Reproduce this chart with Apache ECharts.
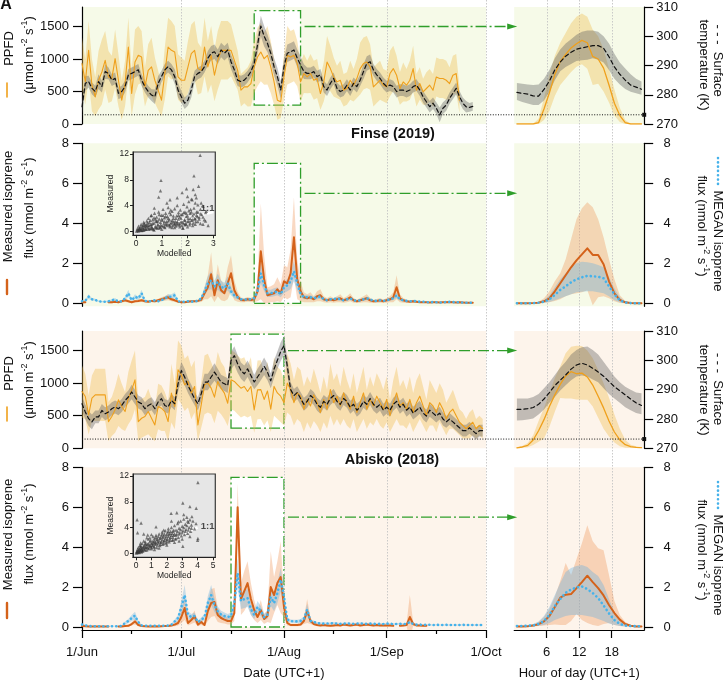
<!DOCTYPE html>
<html><head><meta charset="utf-8">
<script src="https://cdn.jsdelivr.net/npm/echarts@6/dist/echarts.min.js"></script>
<style>html,body{margin:0;padding:0;background:#fff}#c{width:726px;height:681px}</style>
</head><body><div id="c"></div>
<script>
// ---------------- DATA ----------------
const DAY_TICKS = [0,30,61,92,122];
const DAY_LABELS = ['1/Jun','1/Jul','1/Aug','1/Sep','1/Oct'];
const DAY_MINOR = [15,45,76,107];
const HOUR_TICKS = [6,12,18];
const HOURS = [0.5,1.5,2.5,3.5,4.5,5.5,6.5,7.5,8.5,9.5,10.5,11.5,12.5,13.5,14.5,15.5,16.5,17.5,18.5,19.5,20.5,21.5,22.5,23.5];

// Finse (2019) daily, index = days since 1 Jun
const finsePPFD = [929,650,1133,597,418,673,800,980,724,699, 1005,673,367,622,1184,469,954,1056,1030,571, 826,878,673,520,367,776,1184,1133,1107,724, 673,673,878,1082,1133,852,826,1184,878,1056, 750,980,1133,1133,1133,1133,980,826,520,571, 571,622,878,1030,1107,1005,1056,878,648,367, 342,724,1056,1030,1056,929,648,776,724,776, 673,699,469,648,954,852,724,648,673,520, 546,673,597,699,852,929,954,878,571,622, 673,597,571,776,852,750,546,648,597,673, 852,520,622,495,546,597,520,724,699,699, 673,622,750,776,367];
const finsePPFDsd = [400,350,450,400,300,450,500,450,400,350, 450,400,300,350,450,350,500,450,400,300, 400,450,350,300,250,400,450,450,400,350, 350,300,400,450,450,400,350,450,400,450, 400,450,450,450,450,400,350,300,250,250, 300,350,400,450,450,400,450,400,350,300, 250,350,450,400,400,350,300,300,250,300, 300,300,250,300,400,350,300,250,300,250, 250,300,250,300,400,400,400,350,300,300, 300,250,250,350,350,300,250,300,250,300, 350,250,250,200,250,250,250,300,300,300, 300,250,300,300,200];
const finseT = [275.9,283.9,284.5,282.2,281.1,284.5,282.8,287.9,287.3,285.0, 285.6,280.5,281.1,282.8,286.8,287.3,287.9,288.5,285.0,282.8, 281.1,279.9,279.3,283.9,286.2,288.5,289.6,288.5,286.2,281.6, 279.3,277.1,278.2,281.6,286.2,287.3,287.9,289.6,292.5,294.2, 294.7,293.0,295.3,294.2,295.3,291.3,288.5,285.0,284.5,285.0, 286.2,287.9,290.7,297.0,303.5,300.0,297.6,294.2,289.6,286.2, 281.6,289.6,294.2,294.7,295.3,292.5,290.2,287.9,287.3,287.3, 287.9,286.2,286.8,282.8,281.6,283.9,285.6,282.2,281.1,281.6, 283.3,281.6,283.9,282.8,285.0,287.9,290.7,291.3,288.5,286.8, 285.6,283.9,282.8,283.3,282.8,281.1,281.6,281.6,281.1,281.6, 282.8,283.3,281.6,279.3,277.6,275.9,277.1,275.4,273.1,275.4, 276.5,278.8,280.5,282.2,279.3,277.1,275.9,275.7,276.0];
const finseTsd = [2.5,2.5,2,2,2,2.5,2,2.5,2,2, 2,2,2,2,2,2,2,2,2,2, 2,2,2.5,2.5,2,2,2,2,2.5,2.5, 2,2,2,2.5,2,2,2,2,2.5,2.5, 2.5,2.5,2.5,2.5,2.5,2.5,2.5,2,2,2, 2,2,2.5,3,3.5,3.5,3,3,3,3, 3,3,3,3,3,3,3,2.5,2,2, 2,2,2,2,2,2,2,2,2,2, 2,2,2,2,2,2.5,2.5,2.5,2,2, 2,2,2,2,2,2,2,2,2,2, 2,2,2,2,2,2,2,2,2.5,2, 2,2,2,2,2,2,2,1.5,1.5];
const finseMeas = [0.05,0.05,null,null,null,null,null,null,0.05,0.05, 0.08,0.05,0.1,0.15,0.1,0.05,0.1,0.12,0.15,0.1, 0.08,0.12,0.1,0.15,0.2,0.25,0.3,0.2,0.15,0.08, 0.05,0.05,0.08,0.1,0.1,0.12,0.17,0.5,0.8,1.45, 0.4,1.15,0.65,0.5,1.0,1.5,0.65,0.33,0.17,0.15, 0.2,0.17,0.2,0.6,2.6,1.2,0.4,0.45,0.5,0.7, 0.5,1.1,1.0,1.5,3.3,1.2,0.6,0.3,0.25,0.3, 0.2,0.35,0.4,0.2,0.15,0.2,0.15,0.2,0.25,0.15, 0.2,0.3,0.15,0.1,0.15,0.2,0.25,0.15,0.1,0.12, 0.15,0.1,0.15,0.2,0.3,0.8,0.25,0.15,0.1,0.08, 0.1,0.08,0.05,0.05,0.05,0.04,0.05,0.05,0.04,0.05, 0.05,0.06,0.05,0.04,0.05,0.04,0.03,0.03,0.03];
const finseMeasSd = [0.05,0.05,null,null,null,null,null,null,0.05,0.05, 0.05,0.05,0.06,0.08,0.06,0.05,0.06,0.07,0.08,0.06, 0.05,0.06,0.06,0.08,0.1,0.12,0.15,0.1,0.08,0.05, 0.04,0.04,0.05,0.06,0.06,0.07,0.1,0.3,0.6,1.1, 0.35,0.8,0.5,0.4,0.8,0.9,0.5,0.25,0.12,0.1, 0.12,0.1,0.15,0.5,2.4,1.2,0.4,0.4,0.45,0.6, 0.45,0.8,0.8,1.2,2.0,1.0,0.5,0.25,0.2,0.25, 0.15,0.25,0.3,0.15,0.12,0.15,0.12,0.15,0.2,0.12, 0.15,0.2,0.12,0.08,0.12,0.15,0.2,0.12,0.08,0.1, 0.12,0.08,0.12,0.15,0.25,0.6,0.2,0.12,0.08,0.06, 0.08,0.06,0.04,0.04,0.04,0.03,0.04,0.04,0.03,0.04, 0.04,0.05,0.04,0.03,0.04,0.03,0.03,0.03,0.03];
const finseMeg = [0.1,0.13,0.33,0.2,0.17,0.1,0.08,0.08,0.1,0.15, 0.2,0.08,0.1,0.25,0.5,0.15,0.33,0.25,0.5,0.12, 0.1,0.1,0.15,0.1,0.15,0.25,0.33,0.33,0.4,0.1, 0.08,0.08,0.1,0.08,0.1,0.12,0.25,0.6,1.0,1.15, 0.83,1.08,0.83,0.75,1.0,0.6,0.4,0.3,0.2,0.18, 0.2,0.2,0.25,0.6,1.5,0.9,0.5,0.5,0.55,0.6, 0.45,0.8,0.9,1.1,1.6,1.0,0.5,0.3,0.3,0.3, 0.25,0.3,0.35,0.2,0.15,0.2,0.2,0.25,0.2,0.15, 0.2,0.25,0.15,0.12,0.15,0.2,0.25,0.2,0.12,0.12, 0.15,0.12,0.15,0.2,0.25,0.4,0.2,0.15,0.12,0.1, 0.12,0.1,0.08,0.08,0.06,0.05,0.06,0.05,0.04,0.05, 0.06,0.07,0.06,0.05,0.05,0.04,0.03,0.03,0.03];
const finseMegSd = [0.04,0.05,0.12,0.07,0.06,0.04,0.03,0.03,0.04,0.05, 0.07,0.03,0.04,0.08,0.18,0.05,0.12,0.08,0.18,0.04, 0.04,0.04,0.05,0.04,0.05,0.08,0.12,0.12,0.15,0.04, 0.03,0.03,0.04,0.03,0.04,0.04,0.08,0.2,0.35,0.45, 0.3,0.4,0.3,0.28,0.35,0.2,0.15,0.1,0.07,0.06, 0.07,0.07,0.08,0.2,0.5,0.3,0.18,0.18,0.2,0.2, 0.15,0.28,0.3,0.38,0.5,0.35,0.18,0.1,0.1,0.1, 0.08,0.1,0.12,0.07,0.05,0.07,0.07,0.08,0.07,0.05, 0.07,0.08,0.05,0.04,0.05,0.07,0.08,0.07,0.04,0.04, 0.05,0.04,0.05,0.07,0.08,0.14,0.07,0.05,0.04,0.03, 0.04,0.03,0.03,0.03,0.02,0.02,0.02,0.02,0.02,0.02, 0.02,0.02,0.02,0.02,0.02,0.02,0.01,0.01,0.01];

// Abisko (2018) daily
const abiskoPPFD = [872,795,513,769,820,820,820,820,410,487, 590,744,641,564,769,897,1051,410,461,487, 564,461,359,641,615,564,410,846,641,1205, 1128,974,1026,846,949,359,667,974,1000,923, 785,1026,923,846,692,1051,1026,974,923,949, 872,949,590,897,900,750,880,600,950,850, 800,700,1000,900,700,850,800,600,750,650, 820,700,550,750,600,900,700,800,650,850, 700,600,800,550,700,850,600,750,650,800, 700,600,750,500,700,850,650,700,600,750, 550,700,800,650,500,700,650,550,700,600, 450,550,600,500,400,350,300,350,400,300, 350,300];
const abiskoPPFDsd = [400,350,300,350,400,400,400,400,300,300, 350,400,350,300,400,450,450,300,300,300, 350,300,250,350,350,300,300,450,350,450, 450,400,400,400,400,250,350,450,450,400, 400,450,400,400,350,450,450,450,450,450, 400,450,350,450,450,400,450,350,450,400, 400,350,450,400,350,400,400,350,350,350, 400,350,300,350,300,400,350,350,300,400, 350,300,350,300,350,400,300,350,300,350, 350,300,350,250,350,400,300,350,300,350, 300,350,350,300,250,350,300,300,300,300, 250,250,300,250,200,200,150,200,200,150, 150,150];
const abiskoT = [285.2,282.4,280.1,279.0,280.7,280.7,282.9,281.8,282.4,283.5, 284.1,283.5,284.6,286.3,287.5,289.2,287.5,285.8,285.2,283.5, 284.6,285.2,283.5,285.8,286.9,284.6,284.1,286.3,285.2,292.0, 296.5,294.3,291.4,289.2,286.9,285.2,288.6,292.6,292.6,294.3, 296.0,294.3,292.6,292.0,291.4,299.9,301.6,298.8,296.5,295.4, 297.1,294.8,292.6,294.3,296,298,296,293,297,300, 303,305,298,290,288,289,287,285,286,288, 287,285,284,286,285,287,288,286,285,287, 286,284,285,283,284,286,285,287,285,284, 285,283,284,283,285,286,284,285,283,284, 282,283,284,282,281,283,282,281,282,280, 279,280,279,278,277,276,276,277,276,275, 276,276];
const abiskoTsd = [2.5,2.5,2.5,2.5,2.2,2.2,2.2,2.2,2.2,2.2, 2.2,2.2,2.2,2.2,2.2,2.5,2.5,2.2,2.2,2.2, 2.2,2.2,2.2,2.2,2.2,2.2,2.2,2.2,2.2,2.8, 3,2.8,2.5,2.5,2.2,2.2,2.5,2.8,2.8,2.8, 3,2.8,2.5,2.5,2.5,3,3.2,3,2.8,2.8, 2.8,2.8,2.5,2.8,2.8,3,2.8,2.5,3,3, 3.2,3.2,3,2.5,2.2,2.2,2.2,2.2,2.2,2.2, 2.2,2.2,2.2,2.2,2.2,2.2,2.2,2.2,2.2,2.2, 2.2,2.2,2.2,2.2,2.2,2.2,2.2,2.2,2.2,2.2, 2.2,2.2,2.2,2.2,2.2,2.2,2.2,2.2,2.2,2.2, 2.2,2.2,2.2,2.2,2.2,2.2,2.2,2.2,2.2,2.2, 2,2,2,2,2,2,2,2,2,2, 2,2];
const abiskoMeas = [0.05,0.04,0.03,0.03,0.03,0.03,0.03,0.03,0.03,null, null,0.03,0.03,0.05,0.06,0.15,0.28,0.1,0.05,0.04, 0.03,0.03,0.04,0.03,0.04,0.05,0.05,0.08,0.12,0.2, 0.5,0.95,0.2,0.35,0.53,0.12,0.25,0.1,0.8,1.2, 1.25,0.6,0.45,0.37,0.3,0.3,0.7,6.0,1.4,1.8, 2.2,1.4,0.85,0.5,0.85,0.4,0.55,2.0,1.6,2.2, 2.5,1.0,0.2,0.1,0.1,0.1,0.12,0.3,0.8,0.3, 0.15,0.1,0.08,0.1,0.08,0.06,0.08,0.1,0.08,0.12, 0.1,0.08,0.1,0.12,0.08,0.1,0.12,0.1,0.08,0.1, 0.08,0.07,0.08,0.08,0.06,null,0.06,0.07,0.1,0.5, 0.15,0.08,0.07,0.06,0.06];
const abiskoMeasSd = [0.03,0.02,0.02,0.02,0.02,0.02,0.02,0.02,0.02,null, null,0.02,0.02,0.03,0.04,0.08,0.15,0.05,0.03,0.02, 0.02,0.02,0.02,0.02,0.02,0.03,0.03,0.05,0.08,0.12, 0.3,0.6,0.12,0.2,0.3,0.08,0.15,0.06,0.5,0.7, 0.7,0.35,0.25,0.2,0.18,0.18,0.4,1.2,0.8,1.0, 1.1,0.8,0.5,0.3,0.5,0.25,0.3,1.8,0.9,1.1, 1.8,0.5,0.12,0.06,0.06,0.06,0.07,0.15,0.6,0.15, 0.08,0.06,0.05,0.06,0.05,0.04,0.05,0.06,0.05,0.07, 0.06,0.05,0.06,0.07,0.05,0.06,0.07,0.06,0.05,0.06, 0.05,0.04,0.05,0.05,0.04,null,0.04,0.04,0.06,1.1, 0.1,0.05,0.04,0.04,0.04];
const abiskoMeg = [0.12,0.08,0.05,0.04,0.04,0.04,0.04,0.03,0.04,0.04, 0.04,0.04,0.06,0.2,0.3,0.45,0.57,0.25,0.08,0.06, 0.06,0.06,0.06,0.06,0.06,0.06,0.07,0.12,0.28,0.45, 1.0,1.6,0.6,0.5,0.55,0.25,0.35,0.5,1.2,1.6, 1.1,0.78,0.62,0.55,0.5,0.55,1.2,2.7,1.3,1.4, 1.45,0.9,0.6,1.0,0.8,0.5,0.6,1.5,1.2,1.7, 2.37,1.5,0.37,0.3,0.28,0.28,0.3,0.4,0.87,0.3, 0.25,0.2,0.17,0.17,0.18,0.17,0.2,0.17,0.16,0.17, 0.18,0.17,0.16,0.17,0.18,0.17,0.16,0.17,0.16,0.15, 0.16,0.15,0.17,0.16,0.15,0.15,0.16,0.15,0.15,0.25, 0.15,0.12,0.12,0.11,0.12,0.11,0.1,0.11,0.1,0.1, 0.11,0.1,0.1,0.1,0.1,0.11,0.1,0.1,0.1,0.1, 0.1,0.1];
const abiskoMegSd = [0.05,0.03,0.02,0.02,0.02,0.02,0.02,0.02,0.02,0.02, 0.02,0.02,0.03,0.07,0.1,0.15,0.2,0.08,0.03,0.02, 0.02,0.02,0.02,0.02,0.02,0.02,0.03,0.05,0.1,0.15, 0.3,0.5,0.2,0.15,0.18,0.08,0.12,0.15,0.35,0.5, 0.35,0.25,0.2,0.18,0.15,0.18,0.35,0.8,0.4,0.45, 0.45,0.3,0.2,0.3,0.25,0.15,0.2,0.45,0.4,0.5, 0.6,0.4,0.12,0.08,0.08,0.08,0.1,0.12,0.3,0.08, 0.07,0.05,0.05,0.05,0.05,0.05,0.05,0.05,0.04,0.04, 0.04,0.04,0.04,0.04,0.04,0.04,0.04,0.04,0.04,0.04, 0.04,0.04,0.04,0.04,0.04,0.04,0.04,0.04,0.04,0.08, 0.04,0.03,0.03,0.03,0.03,0.03,0.03,0.03,0.03,0.03, 0.03,0.03,0.03,0.03,0.03,0.03,0.03,0.03,0.03,0.03, 0.03,0.03];

// Diurnal (hour of day)
const fDiPPFD   = [0,0,0,0,20,230,480,760,960,1070,1170,1235,1286,1250,1040,1000,860,600,320,130,20,0,0,0];
const fDiPPFDhi = [0,0,0,5,80,400,750,1050,1250,1400,1550,1650,1700,1650,1450,1350,1150,850,530,250,60,0,0,0];
const fDiPPFDlo = [0,0,0,0,0,60,200,430,600,700,800,880,920,850,600,620,500,330,130,30,0,0,0,0];
const fDiT   = [280.8,280.5,280.2,279.6,279.5,281.8,284.7,288.5,291.2,293.2,294.5,295.6,296.0,296.4,296.8,296.8,295.9,293.0,289.5,287.0,285.0,283.3,282.6,281.9];
const fDiThi = [284,283.8,283.5,283.3,283.5,285.5,288.5,292.5,295.5,297.5,299,300.5,301.5,302,302,301.5,300,297.5,294,291,289,287,285.5,284.5];
const fDiTlo = [278.2,277.5,277,276.5,276.5,278,281,285,288,289.5,290.5,291.5,291.8,292,292.5,292,291,288.5,285.5,283.5,282,281,280.5,280];
const fDiMeas   = [0,0,0,0.01,0.03,0.1,0.25,0.6,1.0,1.4,1.8,2.15,2.45,2.75,2.42,2.42,1.95,1.1,0.5,0.17,0.05,0.01,0,0];
const fDiMeasHi = [0,0,0,0.03,0.08,0.25,0.6,1.1,1.5,2.2,3.2,4.2,4.75,5.05,4.8,4.2,3.3,2.2,1.2,0.4,0.12,0.03,0,0];
const fDiMeasLo = [0,0,0,0,0,0.02,0.05,0.12,0.2,0.35,0.45,0.5,0.55,0.65,-0.1,0.3,0.35,0.25,0.1,0.02,0,0,0,0];
const fDiMeg   = [0,0,0,0.01,0.03,0.08,0.2,0.42,0.67,0.85,1.05,1.2,1.3,1.37,1.35,1.33,1.25,0.85,0.45,0.15,0.04,0.01,0,0];
const fDiMegHi = [0,0,0,0.02,0.06,0.15,0.4,0.8,1.2,1.5,1.8,2.0,2.08,2.05,2.0,1.92,1.8,1.3,0.75,0.3,0.08,0.02,0,0];
const fDiMegLo = [0,0,0,0,0.01,0.03,0.06,0.15,0.25,0.35,0.45,0.55,0.58,0.6,0.6,0.55,0.5,0.35,0.15,0.05,0.01,0,0,0];

const aDiPPFD   = [8,20,45,128,270,440,640,820,980,1110,1175,1144,1154,1095,970,800,620,420,250,128,55,25,15,10];
const aDiPPFDhi = [15,35,80,200,420,620,850,1080,1260,1460,1560,1575,1570,1500,1380,1200,1000,780,520,300,130,55,30,18];
const aDiPPFDlo = [3,8,15,50,100,150,330,560,770,765,765,750,745,745,640,470,300,180,90,30,10,5,3,2];
const aDiT   = [283.3,283.3,283.5,283.9,285.0,286.8,289.0,291.4,293.2,295.0,297.0,298.4,299.0,298.4,297.3,296.0,294.6,292.8,291.0,289.6,288.2,286.8,285.5,284.6];
const aDiThi = [287,287,287,287.5,288.5,290.5,292.5,295,297.5,299.5,302,303.5,304.5,304.7,303.5,302,299.5,297,294.5,292.5,291,290,289,288.8];
const aDiTlo = [279.5,279.6,279.8,280.2,281.5,283.2,285.5,287.5,289.7,291.5,293.2,294.5,294.8,294.5,293.5,292.5,290.5,288.5,287,285.5,284,283,282,281.6];
const aDiMeas   = [0.03,0.03,0.04,0.07,0.14,0.28,0.55,1.0,1.47,1.62,1.65,1.95,2.25,2.57,2.25,1.95,1.58,1.1,0.7,0.37,0.15,0.06,0.03,0.03];
const aDiMeasHi = [0.05,0.05,0.06,0.12,0.25,0.5,0.9,1.5,2.3,3.2,2.6,3.4,4.2,5.1,4.3,3.95,3.85,2.6,1.3,0.6,0.25,0.1,0.05,0.05];
const aDiMeasLo = [0.01,0.01,0.02,0.03,0.05,0.08,0.1,0.12,0.1,0.1,0.3,0.65,0.35,0.2,0.1,0.05,0.15,0.2,0.1,0.05,0.02,0.01,0.01,0.01];
const aDiMeg   = [0.05,0.05,0.06,0.08,0.15,0.3,0.6,1.05,1.4,1.72,1.88,1.98,2.03,1.9,1.7,1.45,1.08,0.68,0.35,0.15,0.07,0.05,0.04,0.04];
const aDiMegHi = [0.08,0.08,0.1,0.15,0.28,0.55,1.0,1.6,2.2,2.75,2.95,3.05,3.1,3.0,2.75,2.55,2.1,1.4,0.75,0.35,0.15,0.1,0.08,0.07];
const aDiMegLo = [0.02,0.02,0.03,0.04,0.06,0.1,0.2,0.35,0.45,0.55,0.6,0.6,0.6,0.55,0.5,0.4,0.3,0.18,0.1,0.05,0.03,0.02,0.02,0.02];

// Insets: measured vs modelled
const finseScatter = [[0.02,0.05],[0.05,0.1],[0.08,0.3],[0.1,0.15],[0.12,0.5],[0.15,0.2],[0.18,0.7],[0.2,0.35],[0.22,0.1],[0.25,0.9],[0.28,0.5],[0.3,0.2],[0.32,1.2],[0.35,0.7],[0.38,0.3],[0.4,1.0],[0.42,1.6],[0.45,0.5],[0.48,2.0],[0.5,0.9],[0.52,1.4],[0.55,0.4],[0.58,2.4],[0.6,1.1],[0.62,0.6],[0.65,1.8],[0.68,0.3],[0.7,1.3],[0.72,2.8],[0.75,0.8],[0.78,1.6],[0.8,2.2],[0.82,0.5],[0.85,1.1],[0.88,3.0],[0.9,1.9],[0.92,0.7],[0.95,1.4],[0.98,2.5],[1.0,0.9],[1.02,1.7],[1.05,3.4],[1.08,1.2],[1.1,2.1],[1.12,0.6],[1.15,2.8],[1.18,1.5],[1.2,0.9],[1.22,2.3],[1.25,3.7],[1.28,1.1],[1.3,1.8],[1.32,0.7],[1.35,2.6],[1.38,1.4],[1.4,3.1],[1.42,0.9],[1.45,2.0],[1.48,1.2],[1.5,3.5],[1.52,1.6],[1.55,0.8],[1.58,2.4],[1.6,4.0],[1.62,1.3],[1.65,2.9],[1.68,1.0],[1.7,2.2],[1.72,3.3],[1.75,1.5],[1.78,0.9],[1.8,2.6],[1.82,0.5],[1.85,4.2],[1.88,1.8],[1.9,3.0],[1.92,1.2],[1.95,2.3],[1.98,3.8],[2.0,1.5],[2.02,2.0],[2.05,4.6],[2.08,1.0],[2.1,2.8],[2.12,3.4],[2.15,1.7],[2.18,4.9],[2.2,2.4],[2.22,1.3],[2.25,3.6],[2.28,2.0],[2.3,4.4],[2.32,1.5],[2.35,3.0],[2.38,2.3],[2.4,4.1],[2.45,1.9],[2.5,3.4],[2.55,2.6],[2.6,3.9],[2.65,1.8],[2.7,2.9],[2.8,0.9],[0.6,2.5],[0.3,0.9],[0.7,0.2],[1.0,0.3],[1.5,0.6],[2.0,0.7],[2.3,1.1],[2.6,1.1],[2.49,11.8],[2.25,8.6],[0.97,7.9],[2.43,7.0],[0.95,6.3],[1.96,6.6],[2.22,6.5],[1.32,4.9],[0.88,5.3],[2.3,5.7],[1.79,6.0],[2.34,5.2],[2.53,4.4],[2.73,3.1],[0.71,3.6],[1.82,0.5],[2.15,5.0],[1.6,5.2],[1.2,4.4],[2.0,5.4],
  [0.05,0.4],[0.1,0.8],[0.15,0.45],[0.2,1.1],[0.25,0.6],[0.3,1.4],[0.35,0.4],[0.4,0.75],[0.45,1.3],[0.5,0.55],[0.55,1.7],[0.6,0.8],[0.65,1.2],[0.7,2.1],[0.75,0.6],[0.8,1.5],[0.85,0.9],[0.9,2.6],[0.95,1.0],[1.0,1.9],[1.05,0.8],[1.1,1.5],[1.15,2.3],[1.2,1.2],[1.25,1.6],[1.3,2.9],[1.35,1.2],[1.4,1.7],[1.45,2.4],[1.5,1.1],[1.55,2.0],[1.6,1.5],[1.65,2.5],[1.7,1.2],[1.75,2.0],[1.8,1.4],[1.85,2.9],[1.9,1.7],[1.95,1.1],[2.0,2.4],[2.05,1.6],[2.1,2.0],[2.15,3.0],[2.2,1.8],[2.25,2.7],[2.3,1.9],[2.35,2.5],[2.4,3.0],[2.45,2.2],[2.5,2.7],[0.1,0.05],[0.2,0.15],[0.3,0.25],[0.4,0.3],[0.5,0.3],[0.6,0.45],[0.8,0.6],[0.9,0.5],[1.1,0.7],[1.3,0.9],[1.4,0.6],[1.6,1.0],[1.7,0.7],[1.9,1.0],[2.1,1.3],[2.2,0.9],[2.4,1.5],[2.5,1.2],[2.6,2.2],[2.7,1.6],[0.15,0.3],[0.25,0.2],[0.35,1.0],[0.45,0.9],[0.55,1.0],[0.65,0.4],[0.75,1.9],[0.85,1.6],[0.95,0.6],[1.05,2.5],[1.15,1.1],[1.25,2.0],[1.35,3.3],[1.45,1.5],[1.55,1.3],[1.65,1.9],[1.75,2.6],[1.85,1.2],[1.95,2.8],[2.05,3.2]];
const abiskoScatter = [[0.02,0.05],[0.05,0.3],[0.08,0.1],[0.1,0.6],[0.12,0.2],[0.15,0.9],[0.18,0.4],[0.2,0.1],[0.22,0.7],[0.25,1.2],[0.28,0.3],[0.3,0.5],[0.32,1.0],[0.35,0.2],[0.38,0.8],[0.4,1.5],[0.45,0.4],[0.5,1.1],[0.55,0.6],[0.6,1.8],[0.65,0.9],[0.7,0.5],[0.75,1.4],[0.8,2.2],[0.85,0.8],[0.9,1.2],[0.95,2.0],[1.0,0.7],[1.05,1.6],[1.1,2.6],[1.15,1.0],[1.2,1.9],[1.25,1.4],[1.3,2.8],[1.35,0.9],[1.4,2.2],[1.45,1.6],[1.5,3.0],[1.55,1.2],[1.6,2.4],[1.65,1.8],[1.7,3.3],[1.75,1.4],[1.8,2.7],[1.85,2.0],[1.9,3.5],[1.95,1.6],[2.0,2.9],[2.05,2.2],[2.1,3.8],[2.15,1.8],[2.2,3.1],[2.25,2.5],[2.3,4.0],[2.35,2.0],[2.4,3.4],[2.45,2.8],[2.5,4.3],[2.55,2.2],[2.6,3.6],[2.65,3.0],[2.7,4.6],[2.75,2.5],[2.8,3.9],[2.85,3.2],[2.9,5.0],[2.95,2.7],[3.0,4.2],[3.05,3.5],[3.1,5.3],[3.15,2.9],[3.2,4.5],[3.25,3.7],[3.3,5.6],[3.35,3.1],[3.4,4.8],[3.45,4.0],[3.5,5.2],[3.55,3.4],[3.6,4.4],[3.7,5.0],[3.8,3.8],[3.9,4.6],[1.0,2.9],[0.5,1.9],[2.0,1.3],[1.5,0.8],[2.5,1.7],[3.0,2.2],[0.3,1.6],[0.7,2.4],[1.2,0.6],[2.8,1.9],[3.5,2.6],[4.02,11],[0.07,5.2],[0.33,4.7],[3.04,7.8],[3.5,7.25],[3.91,7.0],[2.28,6.2],[2.65,6.3],[3.63,5.7],[3.36,5.0],[3.1,6.0],[2.75,4.9],[4.02,2.3],[4.0,2.0],[3.04,1.1],[1.3,4.1],[0.76,2.85],[0.1,3.2],[0.5,3.0],[1.8,3.6],[2.3,5.0],
  [0.05,0.15],[0.1,0.3],[0.15,0.5],[0.2,0.3],[0.25,0.5],[0.3,0.8],[0.35,0.6],[0.4,0.5],[0.45,0.9],[0.5,0.7],[0.55,1.2],[0.6,0.9],[0.65,1.4],[0.7,1.0],[0.75,0.9],[0.8,1.5],[0.85,1.2],[0.9,1.8],[0.95,1.1],[1.0,1.5],[1.05,1.2],[1.1,1.9],[1.15,1.6],[1.2,2.3],[1.25,1.7],[1.3,1.5],[1.35,2.1],[1.4,1.8],[1.45,2.6],[1.5,1.9],[1.55,2.3],[1.6,1.7],[1.65,2.7],[1.7,2.1],[1.75,2.5],[1.8,1.9],[1.85,3.0],[1.9,2.3],[1.95,2.6],[2.0,2.1],[2.05,3.2],[2.1,2.6],[2.15,2.9],[2.2,2.3],[2.25,3.4],[2.3,2.8],[2.35,3.1],[2.4,2.5],[2.45,3.6],[2.5,3.0],[2.6,2.8],[2.7,3.4],[2.8,3.0],[2.9,3.7],[3.0,3.2],[3.1,4.0],[3.2,3.4],[3.3,4.3],[3.4,3.6],[3.6,3.9],[0.2,0.15],[0.4,0.3],[0.6,0.5],[0.8,0.7],[1.0,0.9],[1.2,1.0],[1.4,1.3],[1.6,1.4],[1.8,1.6],[2.0,1.8],[2.2,2.0],[2.4,2.1],[2.6,2.3],[0.3,1.2],[0.6,1.5],[0.9,2.4],[1.1,1.3],[1.3,2.5],[1.7,3.0],[2.1,3.4]];
const finseOneToOne = [[0,0],[3,3]];
const abiskoOneToOne = [[0,0],[4,4]];
const finseOneLabel = [[2.78,3.62]];
const abiskoOneLabel = [[4.65,4.16]];

// Zoom boxes [startDay, endDay], arrow levels
const finseBox = {d0:52, d1:66, p0:291, p1:1745, f1:7.0};
const abiskoBox = {d0:45, d1:61, p0:311, p1:1753, f1:7.5};
const ARROW_PPFD = 1500, ARROW_FLUX = 5.5, FREEZE_K = 273.15;

// ---------------- STYLE ----------------
const FONT = "'Liberation Sans', Arial, Helvetica, sans-serif";
const C_PPFD = '#efa01c', C_PPFD_BAND = 'rgba(240,188,80,0.38)';
const C_T = '#111', C_T_BAND = 'rgba(95,95,95,0.38)';
const C_MEAS = '#d4621a', C_MEAS_BAND = 'rgba(238,150,90,0.36)';
const C_MEG = '#46b2ea', C_MEG_BAND = 'rgba(100,175,225,0.36)';
const GREEN = '#2f9e2a';
const FINSE_BG = '#f6fae8', ABISKO_BG = '#fdf4eb';
const LX = 82, LW = 404, RX = 514.2, RW = 130;
const P = [{top:7,h:117},{top:143.3,h:163},{top:331,h:117.3},{top:467.3,h:163}];
const DAY = Array.from({length:123}, (_, i) => i);

function band(mean, sd, floor) {
  const lo = [], hi = [];
  for (let i = 0; i < mean.length; i++) {
    if (mean[i] == null || sd[i] == null) { lo.push(null); hi.push(null); }
    else { let l = mean[i] - sd[i]; if (floor != null) l = Math.max(floor, l); lo.push(l); hi.push(mean[i] + sd[i]); }
  }
  return [lo, hi];
}
function bandSeries(xi, yi, xs, lo, hi, color, z) {
  let i0 = 0; while (i0 < lo.length && (lo[i0] == null || hi[i0] == null)) i0++;
  return {
    type: 'custom', xAxisIndex: xi, yAxisIndex: yi, z: z || 2, silent: true, clip: true,
    data: [[xs[i0], (lo[i0] + hi[i0]) / 2]],
    renderItem: function (params, api) {
      const children = []; let run = [];
      const flush = () => {
        if (run.length > 1) {
          const top = run.map(i => api.coord([xs[i], hi[i]]));
          const bot = run.map(i => api.coord([xs[i], lo[i]])).reverse();
          children.push({type: 'polygon', shape: {points: top.concat(bot)}, style: {fill: color}});
        }
        run = [];
      };
      for (let i = 0; i < lo.length; i++) {
        if (lo[i] == null || hi[i] == null) flush(); else run.push(i);
      }
      flush();
      return {type: 'group', children};
    }
  };
}
function lineSeries(xi, yi, xs, ys, color, width, dash, z, extra) {
  return Object.assign({
    type: 'line', xAxisIndex: xi, yAxisIndex: yi, z: z || 3, silent: true,
    showSymbol: false, symbol: 'none', connectNulls: false, clip: true,
    data: ys.map((v, i) => [xs[i], v == null ? '-' : v]),
    lineStyle: {color, width, type: dash || 'solid', cap: 'round', join: 'round'}
  }, extra || {});
}
function boxMark(d0, v0, d1, v1) {
  return {silent: true, label: {show: false},
    itemStyle: {color: '#ffffff', borderColor: GREEN, borderWidth: 1.3, borderType: [11, 3, 2, 3]},
    data: [[{coord: [d0, v0]}, {coord: [d1, v1]}]]};
}
function xAx(grid, min, max, ticks, labels, show, name) {
  return {type: 'value', gridIndex: grid, min, max, position: 'bottom', show,
    axisLine: {show: true, onZero: false, lineStyle: {color: '#000', width: 1.2}},
    axisTick: {show: true, length: 8, customValues: ticks, lineStyle: {color: '#000', width: 1.2}},
    axisLabel: {show: true, customValues: ticks, fontSize: 13, color: '#111', fontFamily: FONT, margin: 16,
      formatter: labels ? (v => labels[ticks.indexOf(v)]) : (v => String(v))},
    splitLine: {show: false},
    name: name || '', nameLocation: 'middle', nameGap: 37,
    nameTextStyle: {fontSize: 13, color: '#111', fontFamily: FONT}};
}
function yAx(grid, min, max, ticks, pos, show) {
  return {type: 'value', gridIndex: grid, min, max, position: pos, show,
    axisLine: {show: true, onZero: false, lineStyle: {color: '#000', width: 1.2}},
    axisTick: {show: true, length: 9, customValues: ticks, lineStyle: {color: '#000', width: 1.2}},
    axisLabel: {show: true, customValues: ticks, fontSize: 13, color: '#111', fontFamily: FONT,
      margin: pos === 'left' ? 13 : 23, align: pos === 'left' ? 'right' : 'center', formatter: v => String(v)},
    splitLine: {show: false}};
}
function insetX(grid, min, max, ticks) {
  return {type: 'value', gridIndex: grid, min, max, position: 'bottom', z: 6,
    axisLine: {show: true, onZero: false, lineStyle: {color: '#222', width: 1}},
    axisTick: {show: true, length: 3, customValues: ticks, lineStyle: {color: '#222'}},
    axisLabel: {customValues: ticks, fontSize: 8.5, color: '#222', fontFamily: FONT, margin: 4, formatter: v => String(v)},
    splitLine: {show: false},
    name: 'Modelled', nameLocation: 'middle', nameGap: 13,
    nameTextStyle: {fontSize: 8.5, color: '#222', fontFamily: FONT}};
}
function insetY(grid, min, max, ticks) {
  return {type: 'value', gridIndex: grid, min, max, position: 'left', z: 6,
    axisLine: {show: true, onZero: false, lineStyle: {color: '#222', width: 1}},
    axisTick: {show: true, length: 3, customValues: ticks, lineStyle: {color: '#222'}},
    axisLabel: {customValues: ticks, fontSize: 8.5, color: '#222', fontFamily: FONT, margin: 4, formatter: v => String(v)},
    splitLine: {show: false},
    name: 'Measured', nameLocation: 'middle', nameGap: 13, nameRotate: 90,
    nameTextStyle: {fontSize: 8.5, color: '#222', fontFamily: FONT}};
}

const grids = [];
for (let k = 0; k < 4; k++) {
  const bg = k < 2 ? FINSE_BG : ABISKO_BG;
  grids.push({left: LX, top: P[k].top, width: LW, height: P[k].h, show: true, backgroundColor: bg, borderWidth: 0});
  grids.push({left: RX, top: P[k].top, width: RW, height: P[k].h, show: true, backgroundColor: bg, borderWidth: 0});
}
grids.push({left: 133, top: 152, width: 82.3, height: 83.3, show: true, backgroundColor: '#e6e6e6', borderColor: '#3a3a3a', borderWidth: 1.2, z: 4});
grids.push({left: 133, top: 474, width: 82.3, height: 83.3, show: true, backgroundColor: '#e6e6e6', borderColor: '#3a3a3a', borderWidth: 1.2, z: 4});

const xAxes = [
  xAx(0, 0, 122, DAY_TICKS, DAY_LABELS, false), xAx(1, 0, 24, HOUR_TICKS, null, false),
  xAx(2, 0, 122, DAY_TICKS, DAY_LABELS, false), xAx(3, 0, 24, HOUR_TICKS, null, false),
  xAx(4, 0, 122, DAY_TICKS, DAY_LABELS, false), xAx(5, 0, 24, HOUR_TICKS, null, false),
  xAx(6, 0, 122, DAY_TICKS, DAY_LABELS, true, 'Date (UTC+1)'), xAx(7, 0, 24, HOUR_TICKS, null, true, 'Hour of day (UTC+1)'),
  insetX(8, -0.117, 3.078, [0,1,2,3]), insetX(9, -0.196, 5.15, [0,1,2,3,4,5]),
  {type: 'value', gridIndex: 6, min: 0, max: 122, position: 'bottom',
   axisLine: {show: false, onZero: false}, axisLabel: {show: false}, splitLine: {show: false},
   axisTick: {show: true, length: 4, customValues: DAY_MINOR, lineStyle: {color: '#000', width: 1.2}}}
];
const PPFD_T = [0,500,1000,1500], T_T = [270,280,290,300,310], F_T = [0,2,4,6,8];
const yAxes = [
  yAx(0, 0, 1800, PPFD_T, 'left', true), yAx(0, 270, 310, T_T, 'right', false),
  yAx(1, 0, 1800, PPFD_T, 'left', false), yAx(1, 270, 310, T_T, 'right', true),
  yAx(2, -0.15, 8, F_T, 'left', true), yAx(3, -0.15, 8, F_T, 'right', true),
  yAx(4, 0, 1800, PPFD_T, 'left', true), yAx(4, 270, 310, T_T, 'right', false),
  yAx(5, 0, 1800, PPFD_T, 'left', false), yAx(5, 270, 310, T_T, 'right', true),
  yAx(6, -0.15, 8, F_T, 'left', true), yAx(7, -0.15, 8, F_T, 'right', true),
  insetY(8, -0.62, 12.31, [0,4,8,12]), insetY(9, -0.62, 12.31, [0,4,8,12])
];

const series = [];
function sitePanels(o) {
  const [pl, ph] = band(o.ppfd, o.ppfdSd, 0);
  const [tl, th] = band(o.t, o.tSd);
  series.push(bandSeries(o.xL1, o.yP, DAY, pl, ph, C_PPFD_BAND));
  series.push(bandSeries(o.xL1, o.yT, DAY, tl, th, C_T_BAND));
  series.push(lineSeries(o.xL1, o.yP, DAY, o.ppfd, C_PPFD, 1.1, 'solid', 3,
    {markArea: boxMark(o.box.d0, o.box.p0, o.box.d1, o.box.p1)}));
  series.push(lineSeries(o.xL1, o.yT, DAY, o.t, C_T, 1.2, [4, 3], 4));
  series.push(bandSeries(o.xR1, o.yPr, HOURS, o.dPlo, o.dPhi, C_PPFD_BAND));
  series.push(bandSeries(o.xR1, o.yTr, HOURS, o.dTlo, o.dThi, C_T_BAND));
  series.push(lineSeries(o.xR1, o.yPr, HOURS, o.dP, C_PPFD, 1.3, 'solid', 3));
  series.push(lineSeries(o.xR1, o.yTr, HOURS, o.dT, C_T, 1.2, [4, 3], 4));
  const [ml, mh] = band(o.meas, o.measSd);
  const [gl, gh] = band(o.meg, o.megSd);
  series.push(bandSeries(o.xL2, o.yF, DAY, ml, mh, C_MEAS_BAND));
  series.push(bandSeries(o.xL2, o.yF, DAY, gl, gh, C_MEG_BAND));
  series.push(lineSeries(o.xL2, o.yF, DAY, o.meas, C_MEAS, 2, 'solid', 3,
    {markArea: boxMark(o.box.d0, 0, o.box.d1, o.box.f1)}));
  series.push(lineSeries(o.xL2, o.yF, DAY, o.meg, C_MEG, 2.6, [0.1, 4.2], 4));
  series.push(bandSeries(o.xR2, o.yFr, HOURS, o.dMlo, o.dMhi, C_MEAS_BAND));
  series.push(bandSeries(o.xR2, o.yFr, HOURS, o.dGlo, o.dGhi, C_MEG_BAND));
  series.push(lineSeries(o.xR2, o.yFr, HOURS, o.dM, C_MEAS, 2, 'solid', 3));
  series.push(lineSeries(o.xR2, o.yFr, HOURS, o.dG, C_MEG, 2.6, [0.1, 4.2], 4));
}
sitePanels({xL1:0, yP:0, yT:1, xR1:1, yPr:2, yTr:3, xL2:2, yF:4, xR2:3, yFr:5, box: finseBox,
  ppfd: finsePPFD, ppfdSd: finsePPFDsd, t: finseT, tSd: finseTsd, meas: finseMeas, measSd: finseMeasSd, meg: finseMeg, megSd: finseMegSd,
  dP: fDiPPFD, dPlo: fDiPPFDlo, dPhi: fDiPPFDhi, dT: fDiT, dTlo: fDiTlo, dThi: fDiThi,
  dM: fDiMeas, dMlo: fDiMeasLo, dMhi: fDiMeasHi, dG: fDiMeg, dGlo: fDiMegLo, dGhi: fDiMegHi});
sitePanels({xL1:4, yP:6, yT:7, xR1:5, yPr:8, yTr:9, xL2:6, yF:10, xR2:7, yFr:11, box: abiskoBox,
  ppfd: abiskoPPFD, ppfdSd: abiskoPPFDsd, t: abiskoT, tSd: abiskoTsd, meas: abiskoMeas, measSd: abiskoMeasSd, meg: abiskoMeg, megSd: abiskoMegSd,
  dP: aDiPPFD, dPlo: aDiPPFDlo, dPhi: aDiPPFDhi, dT: aDiT, dTlo: aDiTlo, dThi: aDiThi,
  dM: aDiMeas, dMlo: aDiMeasLo, dMhi: aDiMeasHi, dG: aDiMeg, dGlo: aDiMegLo, dGhi: aDiMegHi});

function insetSeries(xi, yi, pts, one, lab) {
  series.push({type: 'line', xAxisIndex: xi, yAxisIndex: yi, z: 5, silent: true, symbol: 'none',
    data: one, lineStyle: {color: '#ffffff', width: 2.6}});
  series.push({type: 'scatter', xAxisIndex: xi, yAxisIndex: yi, z: 6, silent: true, symbol: 'triangle',
    symbolSize: 3.4, data: pts, itemStyle: {color: 'rgba(55,55,55,0.8)'}});
  series.push({type: 'scatter', xAxisIndex: xi, yAxisIndex: yi, z: 7, silent: true, symbolSize: 0, data: lab,
    label: {show: true, position: 'inside', formatter: '1:1', fontSize: 9.5, fontWeight: 'bold', color: '#222', fontFamily: FONT}});
}
insetSeries(8, 12, finseScatter, finseOneToOne, finseOneLabel);
insetSeries(9, 13, abiskoScatter, abiskoOneToOne, abiskoOneLabel);

const chart = echarts.init(document.getElementById('c'), null, {renderer: 'canvas'});
chart.setOption({animation: false, grid: grids, xAxis: xAxes, yAxis: yAxes, series});

// ---------------- ANNOTATIONS ----------------
const cp = (xi, yi, pt) => chart.convertToPixel({xAxisIndex: xi, yAxisIndex: yi}, pt);
const g = [];
const yBottom = cp(6, 10, [0, -0.15])[1];
function vline(x) {
  g.push({type: 'line', z: 1.5, silent: true, shape: {x1: x, y1: 0, x2: x, y2: yBottom},
    style: {stroke: '#c4c4c4', lineWidth: 0.9, lineDash: [1.5, 1.5]}});
}
[30, 61, 92, 122].forEach(d => vline(Math.round(cp(0, 0, [d, 0])[0]) + 0.5));
HOUR_TICKS.forEach(h => vline(Math.round(cp(1, 2, [h, 0])[0]) + 0.5));

function freeze(xiL, yiL, xiR, yiR) {
  const y = cp(xiR, yiR, [0, FREEZE_K])[1];
  const xl = cp(xiL, yiL, [0, FREEZE_K])[0];
  const xr = cp(xiR, yiR, [24, FREEZE_K])[0];
  g.push({type: 'line', z: 4, silent: true, shape: {x1: xl, y1: y, x2: xr, y2: y},
    style: {stroke: '#111', lineWidth: 1, lineDash: [1, 1.6]}});
  g.push({type: 'rect', z: 4, silent: true, shape: {x: xr - 2, y: y - 2, width: 4, height: 4}, style: {fill: '#111'}});
}
freeze(0, 1, 1, 3);
freeze(4, 7, 5, 9);

function arrow(xi, yi, d, v, xRight) {
  const p = cp(xi, yi, [d, v]);
  const x0 = p[0] + 4, y = p[1], x1 = xRight + 3;
  g.push({type: 'line', z: 4, silent: true, shape: {x1: x0, y1: y, x2: x1 - 8, y2: y},
    style: {stroke: GREEN, lineWidth: 1.3, lineDash: [11, 3, 2, 3]}});
  g.push({type: 'polygon', z: 4, silent: true, shape: {points: [[x1 - 10, y - 3], [x1, y], [x1 - 10, y + 3]]}, style: {fill: GREEN}});
}
const xRightPanel = cp(1, 2, [0, 0])[0];
arrow(0, 0, finseBox.d1, ARROW_PPFD, xRightPanel);
arrow(2, 4, finseBox.d1, ARROW_FLUX, xRightPanel);
arrow(4, 6, abiskoBox.d1, ARROW_PPFD, xRightPanel);
arrow(6, 10, abiskoBox.d1, ARROW_FLUX, xRightPanel);

const SUPR = {sup: {fontSize: 9, lineHeight: 9, verticalAlign: 'top', fontFamily: FONT}};
function txt(x, y, text, rot, extra) {
  g.push({type: 'text', z: 10, silent: true, x, y, rotation: rot || 0,
    style: Object.assign({text, fontSize: 13, fontFamily: FONT, fill: '#111', align: 'center', verticalAlign: 'middle', lineHeight: 18, rich: SUPR}, extra || {})});
}
function dash(x, y0, y1, color, width, ld) {
  g.push({type: 'line', z: 10, silent: true, shape: {x1: x, y1: y0, x2: x, y2: y1},
    style: {stroke: color, lineWidth: width, lineDash: ld || null, lineCap: 'round'}});
}
const R90 = Math.PI / 2;
const UNIT_P = '(μmol m{sup|-2} s{sup|-1})';
const UNIT_F = 'flux (nmol m{sup|-2} s{sup|-1})';
dash(7, 83, 97, C_PPFD, 1.6); txt(9.5, 48.5, 'PPFD', R90); txt(29, 55, UNIT_P, R90);
dash(7, 280, 294, C_MEAS, 2.4); txt(8, 206.5, 'Measured isoprene', R90); txt(29, 208, UNIT_F, R90);
dash(7, 407, 421, C_PPFD, 1.6); txt(9.5, 373.5, 'PPFD', R90); txt(29, 380, UNIT_P, R90);
dash(7, 603, 618, C_MEAS, 2.4); txt(8, 534.5, 'Measured isoprene', R90); txt(29, 534, UNIT_F, R90);
txt(717.5, 60.5, '- - -  Surface', -R90); txt(703.5, 65, 'temperature (K)', -R90);
txt(717.5, 389, '- - -  Surface', -R90); txt(703.5, 390, 'temperature (K)', -R90);
dash(718, 158, 184, C_MEG, 2.6, [0.1, 4.2]); txt(717.5, 241, 'MEGAN isoprene', -R90); txt(702, 226, UNIT_F, -R90);
dash(718, 482, 508, C_MEG, 2.6, [0.1, 4.2]); txt(717.5, 565, 'MEGAN isoprene', -R90); txt(702, 550, UNIT_F, -R90);
txt(393, 134, 'Finse (2019)', 0, {fontSize: 14.5, fontWeight: 'bold'});
txt(392, 460, 'Abisko (2018)', 0, {fontSize: 14.5, fontWeight: 'bold'});
txt(6, 5, 'A', 0, {fontSize: 16, fontWeight: 'bold'});

chart.setOption({graphic: g});
</script>
</body></html>
